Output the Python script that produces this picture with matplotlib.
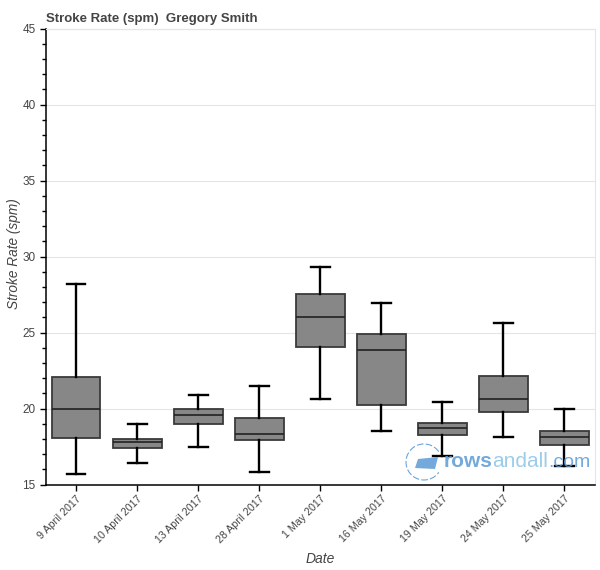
import matplotlib
matplotlib.use('Agg')
import matplotlib.pyplot as plt
from matplotlib.patches import Arc, Polygon
from matplotlib.ticker import MultipleLocator
from matplotlib.transforms import IdentityTransform

plt.rcParams['font.family'] = ['Liberation Sans', 'DejaVu Sans']

dates = ['9 April 2017', '10 April 2017', '13 April 2017', '28 April 2017',
         '1 May 2017', '16 May 2017', '19 May 2017', '24 May 2017', '25 May 2017']
whisker_low = [15.7, 16.4, 17.5, 15.8, 20.65, 18.5, 16.85, 18.1, 16.2]
q1 = [18.05, 17.4, 19.0, 17.9, 24.05, 20.2, 18.25, 19.8, 17.6]
median = [20.0, 17.8, 19.55, 18.3, 26.0, 23.85, 18.7, 20.6, 18.1]
q3 = [22.1, 18.0, 20.0, 19.35, 27.55, 24.9, 19.05, 22.15, 18.55]
whisker_high = [28.2, 19.0, 20.9, 21.5, 29.3, 26.95, 20.4, 25.65, 20.0]

W, H = 600, 570
TEXT = '#444444'

fig = plt.figure(figsize=(W / 100, H / 100), dpi=100)
ax = fig.add_axes([45.5 / W, 1 - 484.5 / H, 549.5 / W, 456 / H])

stats = []
for i, d in enumerate(dates):
    stats.append({'label': d, 'whislo': whisker_low[i], 'q1': q1[i], 'med': median[i],
                  'q3': q3[i], 'whishi': whisker_high[i], 'fliers': []})

ax.bxp(stats, positions=[i + 0.5 for i in range(len(dates))], widths=0.8,
       patch_artist=True, showfliers=False, capwidths=0.31,
       boxprops=dict(facecolor='#878787', edgecolor='#3a3a3a', linewidth=1.3),
       medianprops=dict(color='#222222', linewidth=1.2),
       whiskerprops=dict(color='black', linewidth=1.7),
       capprops=dict(color='black', linewidth=1.7),
       zorder=3)

ax.set_xlim(0, len(dates))
ax.set_ylim(15, 45)

ax.yaxis.set_major_locator(MultipleLocator(5))
ax.yaxis.set_minor_locator(MultipleLocator(1))
ax.grid(axis='y', color='#e5e5e5', linewidth=0.8, zorder=0)
ax.set_axisbelow(True)

ax.spines['top'].set_color('#e5e5e5')
ax.spines['top'].set_linewidth(0.8)
ax.spines['right'].set_color('#e5e5e5')
ax.spines['right'].set_linewidth(0.8)
for side in ['left', 'bottom']:
    ax.spines[side].set_linewidth(1.1)

ax.tick_params(axis='y', which='major', length=4.5, width=1, labelsize=8.5, labelcolor=TEXT, pad=2.5)
ax.tick_params(axis='y', which='minor', length=3, width=1)
ax.tick_params(axis='x', which='major', length=4.5, width=1, labelsize=7.7, labelcolor=TEXT, pad=2)
plt.setp(ax.get_xticklabels(), rotation=45, ha='right', rotation_mode='anchor')

ax.set_xlabel('Date', fontsize=10, style='italic', color=TEXT)
ax.xaxis.set_label_coords(0.5, -0.148)
ax.set_ylabel('Stroke Rate (spm)', fontsize=9.8, style='italic', color=TEXT)
ax.yaxis.set_label_coords(-0.045, 0.507)

fig.text(45.5 / W, 1 - 22 / H, 'Stroke Rate (spm)  Gregory Smith', fontsize=9.5,
         fontweight='bold', color=TEXT, ha='left', va='baseline')

# rowsandall watermark, placed in pixels
px = IdentityTransform()
logo_blue = '#5b9bd5'
fig.add_artist(Arc((424, H - 462), 36, 36, theta1=35, theta2=325, transform=px,
                   edgecolor=logo_blue, linewidth=0.8, linestyle=(0, (6, 2)), alpha=0.9, zorder=5))
fig.add_artist(Polygon([(415, H - 468), (418, H - 459), (438, H - 457), (435, H - 469)],
                       transform=px, facecolor=logo_blue, edgecolor='none', alpha=0.85, zorder=5))
for x, word, size, weight, col in [(444, 'rows', 15, 'bold', logo_blue),
                                   (492, 'andall', 15, 'normal', '#8cc3e8'),
                                   (548, '.com', 14, 'normal', logo_blue)]:
    fig.text(x / W, 1 - 467 / H, word, fontsize=size, fontweight=weight, color=col, alpha=0.85,
             ha='left', va='baseline', zorder=5)

fig.savefig('out.png', dpi=100)
